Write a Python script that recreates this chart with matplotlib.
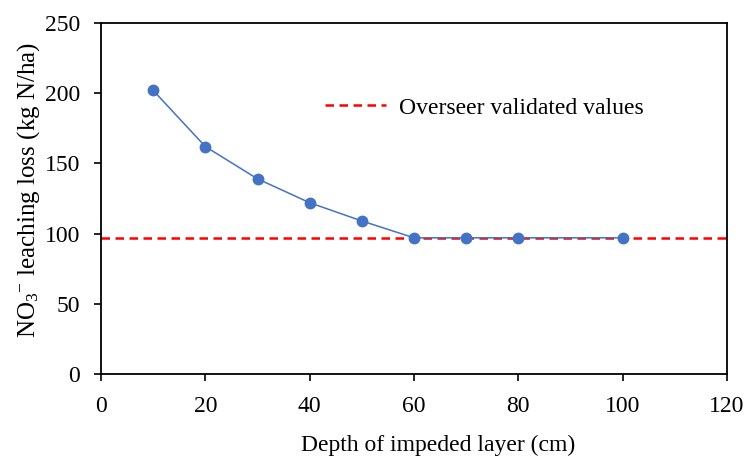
import matplotlib
matplotlib.use('Agg')
import matplotlib.pyplot as plt

# Data
depth = [10, 20, 30, 40, 50, 60, 70, 80, 100]
leaching = [202, 162, 139, 122, 109, 97, 97, 97, 97]
overseer_value = 97

x_ticks = [0, 20, 40, 60, 80, 100, 120]
y_ticks = [0, 50, 100, 150, 200, 250]

plt.rcParams['font.family'] = ['Liberation Serif', 'DejaVu Serif']
plt.rcParams['mathtext.fontset'] = 'custom'
plt.rcParams['mathtext.rm'] = 'Liberation Serif'
plt.rcParams['mathtext.it'] = 'Liberation Serif:italic'

fig = plt.figure(figsize=(7.47, 4.57), dpi=100)
ax = fig.add_axes([101 / 747, 1 - 374 / 457, (727 - 101) / 747, (374 - 23) / 457])

ax.plot(depth, leaching, color='#4472C4', linewidth=1.1,
        marker='o', markersize=7.5, zorder=3)
ref = ax.axhline(overseer_value, color='#FF0000', linewidth=1.8,
                 linestyle=(0, (3.4, 2.2)), zorder=2,
                 label='Overseer validated values')

ax.set_xlim(0, 120)
ax.set_ylim(0, 250)
ax.set_xticks(x_ticks)
ax.set_yticks(y_ticks)
ax.tick_params(axis='both', direction='out', length=5, width=1.2,
               labelsize=17)
ax.tick_params(axis='x', pad=11)
ax.tick_params(axis='y', pad=10)
for s in ax.spines.values():
    s.set_linewidth(1.3)

ax.set_xlabel('Depth of impeded layer (cm)', fontsize=17, labelpad=13)
ax.set_ylabel('NO$_3$$^{-}$ leaching loss (kg N/ha)', fontsize=18, labelpad=2)
# the titles in the original sit a little off the axes centre
ax.xaxis.label.set_x(0.538)
ax.yaxis.label.set_y(0.524)

ax.legend(handles=[ref], frameon=False, fontsize=17, loc='center left',
          bbox_to_anchor=(0.358, 0.758), borderaxespad=0, borderpad=0,
          handlelength=2.6, handletextpad=0.55)

fig.savefig('out.png', dpi=100)
